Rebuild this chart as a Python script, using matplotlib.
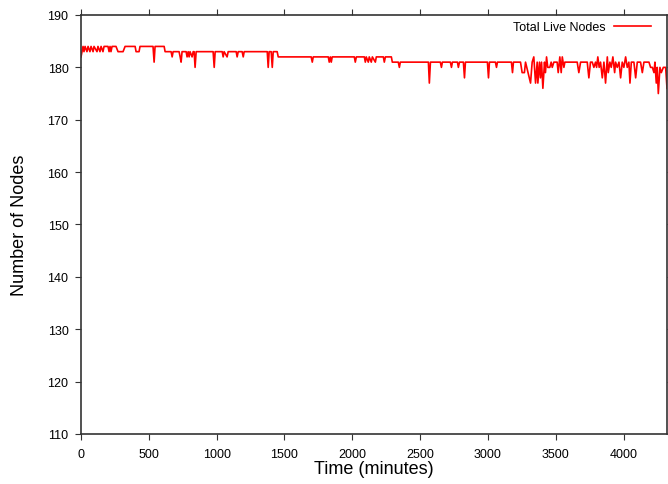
import matplotlib
matplotlib.use('Agg')
import matplotlib.pyplot as plt

#DATA (minutes, live node count)
minutes = [0, 15, 22, 30, 44, 52, 66, 74, 89, 96, 118, 125, 140, 148, 162, 170,
           199, 207, 214, 221, 229, 258, 273, 310, 325, 399, 406, 428, 435, 531,
           539, 546, 613, 620, 664, 672, 679, 723, 731, 738, 745, 775, 782, 790,
           797, 804, 819, 827, 834, 841, 849, 974, 982, 989, 1041, 1048, 1055,
           1077, 1085, 1144, 1151, 1159, 1188, 1196, 1203, 1373, 1380, 1387,
           1402, 1410, 1417, 1446, 1454, 1697, 1705, 1712, 1823, 1830, 1838,
           1845, 1852, 2015, 2022, 2030, 2089, 2096, 2103, 2118, 2125, 2140,
           2148, 2170, 2177, 2229, 2236, 2244, 2288, 2295, 2339, 2347, 2354,
           2561, 2568, 2576, 2649, 2657, 2664, 2723, 2731, 2738, 2775, 2782,
           2790, 2819, 2827, 2834, 2996, 3004, 3011, 3055, 3063, 3070, 3173,
           3181, 3188, 3240, 3252, 3269, 3277, 3314, 3326, 3338, 3351, 3363,
           3368, 3380, 3387, 3395, 3405, 3417, 3424, 3432, 3441, 3456, 3466,
           3474, 3486, 3510, 3518, 3530, 3540, 3548, 3560, 3567, 3658, 3670,
           3683, 3732, 3744, 3756, 3769, 3781, 3793, 3801, 3810, 3820, 3830,
           3843, 3855, 3867, 3880, 3887, 3899, 3909, 3921, 3934, 3941, 3953,
           3966, 3978, 3990, 4002, 4015, 4027, 4039, 4047, 4057, 4076, 4089,
           4101, 4125, 4138, 4150, 4187, 4199, 4212, 4224, 4231, 4241, 4248,
           4256, 4268, 4278, 4293, 4310, 4320]
live_nodes = [182, 184, 183, 184, 183, 184, 183, 184, 183, 184, 183, 184, 183, 184, 183, 184,
              184, 183, 184, 183, 184, 184, 183, 183, 184, 184, 183, 183, 184, 184,
              181, 184, 184, 183, 183, 182, 183, 183, 182, 181, 183, 183, 182, 183,
              182, 183, 182, 183, 183, 180, 183, 183, 180, 183, 183, 182, 183,
              182, 183, 183, 182, 183, 183, 182, 183, 183, 180, 183,
              183, 180, 183, 183, 182, 182, 181, 182, 182, 181, 182,
              181, 182, 182, 181, 182, 182, 181, 182, 181, 182, 181,
              182, 181, 182, 182, 181, 182, 182, 181, 181, 180, 181,
              181, 177, 181, 181, 180, 181, 181, 180, 181, 181, 180,
              181, 181, 178, 181, 181, 178, 181, 181, 180, 181, 181,
              179, 181, 181, 179, 179, 181, 177, 181, 182, 177, 181,
              177, 181, 178, 181, 176, 181, 179, 182, 180, 180, 181,
              180, 181, 181, 179, 182, 179, 182, 180, 181, 181, 179,
              181, 181, 178, 181, 181, 180, 181, 180, 182, 180, 181,
              178, 181, 177, 182, 179, 181, 180, 182, 179, 181, 180,
              181, 178, 181, 180, 182, 180, 181, 177, 181, 181, 178,
              181, 181, 179, 181, 181, 180, 180, 179, 181, 177, 180,
              175, 180, 179, 180, 180, 176]

x_ticks = [0, 500, 1000, 1500, 2000, 2500, 3000, 3500, 4000]
y_ticks = [110, 120, 130, 140, 150, 160, 170, 180, 190]

#PLOTTING
plt.rcParams['font.family'] = ['Liberation Sans', 'DejaVu Sans']

fig = plt.figure(figsize=(6.68, 4.85), dpi=100)
ax = fig.add_axes([81 / 668, 50 / 485, 586 / 668, 419 / 485])

ax.plot(minutes, live_nodes, color='red', linewidth=1.2, label='Total Live Nodes')

ax.set_xlim(0, 4320)
ax.set_ylim(110, 190)
ax.set_xticks(x_ticks)
ax.set_yticks(y_ticks)
ax.tick_params(direction='out', length=4, width=0.8, labelsize=9, colors='#333333',
               top=True, right=True, pad=4)
ax.tick_params(axis='x', labelcolor='black', pad=6)
ax.tick_params(axis='y', labelcolor='black', pad=5)
for s in ax.spines.values():
    s.set_color('#333333')
    s.set_linewidth(1.2)

ax.set_xlabel('Time (minutes)', fontsize=13)
ax.set_ylabel('Number of Nodes', fontsize=13)
ax.xaxis.set_label_coords(0.5, -0.062)
ax.yaxis.set_label_coords(-0.09, 0.5)

ax.legend(loc='center right', bbox_to_anchor=((651 - 81) / 586, (435 - 28) / 419),
          frameon=False, fontsize=9, markerfirst=False, handlelength=3.0,
          handletextpad=0.6, borderpad=0, borderaxespad=0)

fig.savefig('out.png', dpi=100)
